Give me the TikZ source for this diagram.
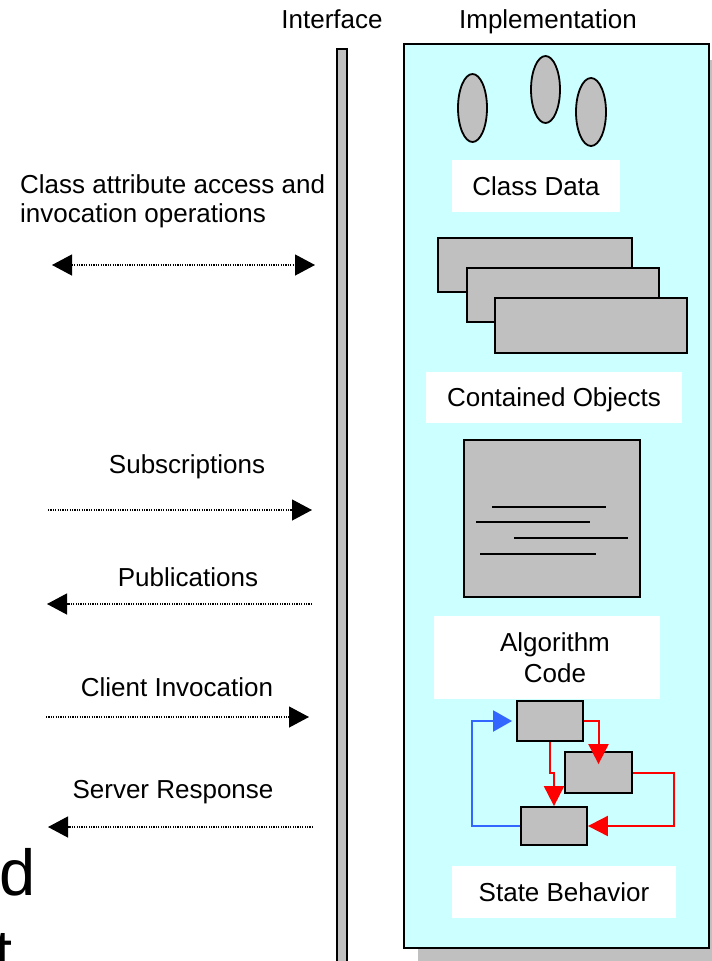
\documentclass[tikz,border=0pt]{standalone}
\usepackage{fontspec}
\setmainfont{Liberation Sans}
\usetikzlibrary{arrows.meta,shapes.geometric}

\definecolor{implfill}{RGB}{204,255,255}
\definecolor{partgrey}{RGB}{192,192,192}
\definecolor{flowred}{RGB}{255,0,0}
\definecolor{flowblue}{RGB}{51,102,255}

\begin{document}
\begin{tikzpicture}[x=1pt,y=-1pt,
  lbl/.style={inner sep=0pt,font=\fontsize{26}{28}\selectfont},
  tagbox/.style={draw=none,fill=white,inner sep=0pt,text height=18.6pt,text depth=0pt,
    font=\fontsize{26}{28}\selectfont},
  part/.style={draw=black,line width=1.8pt,fill=partgrey,inner sep=0pt},
  blob/.style={part,ellipse},
  msg/.style={line width=1.2pt,dash pattern=on 1.2pt off 1.2pt},
  bigtip/.style={-{Triangle[length=20pt,width=21pt]}},
  redflow/.style={draw=flowred,line width=2pt,-{Triangle[length=20pt,width=20pt]}},
  blueflow/.style={draw=flowblue,line width=2pt,-{Triangle[length=19pt,width=21pt]}}]
\useasboundingbox (0,0) rectangle (712,961);
\clip (0,0) rectangle (712,961);

% column headings
\node[lbl,anchor=base] (iface) at (332,28) {Interface};
\node[lbl,anchor=base] (impl) at (548,28) {Implementation};

% interface bar
\node[part,minimum width=10pt,minimum height=930pt,anchor=north] (bar) at (342,48) {};

% implementation panel with its drop shadow
\fill[partgrey] (418,60) rectangle (730,980);
\node[draw=black,line width=1.8pt,fill=implfill,inner sep=0pt,anchor=north west,
  minimum width=305pt,minimum height=904pt] (panel) at (403,43) {};

% class data
\node[blob,minimum width=29pt,minimum height=68pt] (e1) at (472.5,108) {};
\node[blob,minimum width=29pt,minimum height=67pt] (e2) at (545.5,89.5) {};
\node[blob,minimum width=30pt,minimum height=68pt] (e3) at (591,112) {};
\node[tagbox,minimum width=168pt,minimum height=52pt] (cdata) at (536,186) {Class Data};

% contained objects
\node[part,minimum width=194pt,minimum height=54pt] (r1) at (535,265) {};
\node[part,minimum width=192pt,minimum height=54pt] (r2) at (563,295) {};
\node[part,minimum width=192pt,minimum height=55pt] (r3) at (591,325.5) {};
\node[tagbox,minimum width=256pt,minimum height=51pt] (cobj) at (554,397.5) {Contained Objects};

% algorithm code
\node[part,minimum width=176pt,minimum height=157pt] (doc) at (552,518.5) {};
\draw[line width=1.8pt] (492,507) -- (606,507);
\draw[line width=1.8pt] (476,522) -- (590,522);
\draw[line width=1.8pt] (514,538) -- (628,538);
\draw[line width=1.8pt] (480,554) -- (596,554);
\node[fill=white,inner sep=0pt,minimum width=226pt,minimum height=83pt] (algbox) at (547,657.5) {};
\node[lbl,align=center,font=\fontsize{26}{31}\selectfont] (algtext) at (555,657.5) {Algorithm\\Code};

% state behavior
\node[part,minimum width=66pt,minimum height=40pt] (sa) at (550,721) {};
\node[part,minimum width=67pt,minimum height=41pt] (sb) at (598.5,772.5) {};
\node[part,minimum width=66pt,minimum height=38pt] (sc) at (554,826) {};
\draw[redflow,shorten >=-13pt] (sa.east) -| (sb.north);
\draw[redflow] (sa.south) -- ++(0,31) -| (sc.north);
\draw[redflow] (sb.east) -- ++(41,0) |- (sc.east);
\draw[blueflow,shorten >=4pt] (sc.west) -- ++(-48,0) |- (sa.west);
\node[tagbox,minimum width=224pt,minimum height=52pt] (sbeh) at (564,892) {State Behavior};

% messages crossing the interface
\node[lbl,anchor=west,align=left,font=\fontsize{26}{29}\selectfont] (attr) at (20,201)
  {Class attribute access and\\invocation operations};
\coordinate (attrL) at (52,265);
\coordinate (attrR) at (315,265);
\draw[msg,{Triangle[length=20pt,width=21pt]}-{Triangle[length=20pt,width=21pt]}] (attrL) -- (attrR);

\node[lbl,anchor=base] (subs) at (187,473) {Subscriptions};
\coordinate (subsL) at (48,510);
\coordinate (subsR) at (312,510);
\draw[msg,bigtip] (subsL) -- (subsR);

\node[lbl,anchor=base] (pubs) at (188,586) {Publications};
\coordinate (pubsR) at (312,604);
\coordinate (pubsL) at (47,604);
\draw[msg,bigtip] (pubsR) -- (pubsL);

\node[lbl,anchor=base] (cinv) at (177,696) {Client Invocation};
\coordinate (cinvL) at (46,717);
\coordinate (cinvR) at (309,717);
\draw[msg,bigtip] (cinvL) -- (cinvR);

\node[lbl,anchor=base] (sresp) at (173,798) {Server Response};
\coordinate (srespR) at (313,827);
\coordinate (srespL) at (48,827);
\draw[msg,bigtip] (srespR) -- (srespL);

% large heading letters running off the left edge
\node[inner sep=0pt,anchor=base east,font=\fontsize{65}{70}\selectfont] (bigd) at (36,895) {d};
\node[inner sep=0pt,anchor=base east,font=\fontsize{65}{70}\selectfont] (bigt) at (13,975) {t};
\end{tikzpicture}
\end{document}
